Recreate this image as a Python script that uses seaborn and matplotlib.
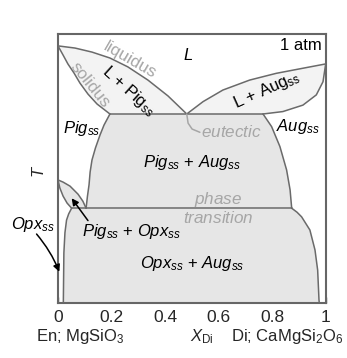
import numpy as np
import pandas as pd
import matplotlib
matplotlib.use("Agg")
import matplotlib.pyplot as plt
import seaborn as sns

# ---------------- data (X_Di, relative T) ----------------
liq_left_x = [0.0, 0.0635, 0.127, 0.194, 0.261, 0.336, 0.411, 0.481]
liq_left_t = [0.954, 0.946, 0.931, 0.909, 0.876, 0.827, 0.768, 0.701]

sol_left_x = [0.0, 0.019, 0.037, 0.060, 0.082, 0.112, 0.146, 0.194]
sol_left_t = [0.954, 0.920, 0.887, 0.853, 0.816, 0.775, 0.738, 0.701]

liq_right_x = [0.481, 0.542, 0.616, 0.716, 0.815, 0.915, 1.0]
liq_right_t = [0.701, 0.747, 0.790, 0.827, 0.852, 0.871, 0.887]

sol_right_x = [1.0, 0.990, 0.965, 0.915, 0.840, 0.766]
sol_right_t = [0.887, 0.821, 0.772, 0.734, 0.710, 0.701]

eut_x = [0.194, 0.766]
eut_t = [0.701, 0.701]

pig_solvus_x = [0.194, 0.172, 0.157, 0.140, 0.127, 0.120, 0.116, 0.110, 0.105]
pig_solvus_t = [0.701, 0.660, 0.623, 0.575, 0.530, 0.485, 0.438, 0.395, 0.351]

aug_up_x = [0.766, 0.798, 0.829, 0.854, 0.867, 0.873]
aug_up_t = [0.701, 0.654, 0.580, 0.493, 0.419, 0.351]

aug_lo_x = [0.873, 0.893, 0.910, 0.941, 0.960, 0.970, 0.975, 0.976]
aug_lo_t = [0.351, 0.336, 0.319, 0.270, 0.196, 0.121, 0.010, 0.0]

trans_x = [0.051, 0.873]
trans_t = [0.351, 0.351]

opx_x = [0.051, 0.040, 0.032, 0.026, 0.022, 0.020]
opx_t = [0.351, 0.330, 0.307, 0.260, 0.185, 0.0]

lens_pig_x = [0.0, 0.019, 0.045, 0.075, 0.093, 0.105]
lens_pig_t = [0.456, 0.448, 0.433, 0.403, 0.377, 0.351]
lens_opx_x = [0.0, 0.007, 0.019, 0.034, 0.051]
lens_opx_t = [0.456, 0.426, 0.396, 0.370, 0.351]

eut_leader_x = [0.481, 0.486, 0.501, 0.530]
eut_leader_t = [0.701, 0.667, 0.645, 0.633]

xticks = [0, 0.2, 0.4, 0.6, 0.8, 1]
xticklabels = ["0", "0.2", "0.4", "0.6", "0.8", "1"]

# ---------------- style ----------------
sns.set_theme(style="white")
plt.rcParams["font.family"] = ["Liberation Sans", "DejaVu Sans"]
plt.rcParams["mathtext.fontset"] = "custom"
plt.rcParams["mathtext.rm"] = "Liberation Sans"
plt.rcParams["mathtext.it"] = "Liberation Sans:italic"
plt.rcParams["mathtext.bf"] = "Liberation Sans:bold"

LINE = "#6a6a6a"
FILL_DARK = "#e6e6e6"
FILL_LIGHT = "#f3f3f3"
GRAY_TXT = "#a6a6a6"
FS = 12
FS_GRAY = 12.3

fig = plt.figure(figsize=(3.47, 3.58), dpi=100)
ax = fig.add_axes([0.1671, 0.1545, 0.7715, 0.7519])
ax.set_facecolor("white")

# ---------------- fills ----------------
ax.fill(liq_left_x + sol_left_x[::-1], liq_left_t + sol_left_t[::-1],
        color=FILL_LIGHT, lw=0, zorder=1)
ax.fill(liq_right_x + sol_right_x, liq_right_t + sol_right_t,
        color=FILL_LIGHT, lw=0, zorder=1)
ax.fill(eut_x + aug_up_x + pig_solvus_x[::-1],
        eut_t + aug_up_t + pig_solvus_t[::-1],
        color=FILL_DARK, lw=0, zorder=1)
ax.fill(trans_x + aug_lo_x + opx_x[::-1],
        trans_t + aug_lo_t + opx_t[::-1],
        color=FILL_DARK, lw=0, zorder=1)
ax.fill(lens_pig_x + lens_opx_x[::-1], lens_pig_t + lens_opx_t[::-1],
        color=FILL_DARK, lw=0, zorder=1)

# ---------------- boundary lines ----------------
curves = [
    (liq_left_x, liq_left_t), (sol_left_x, sol_left_t),
    (liq_right_x, liq_right_t), (sol_right_x, sol_right_t),
    (eut_x, eut_t), (pig_solvus_x, pig_solvus_t),
    (aug_up_x, aug_up_t), (aug_lo_x, aug_lo_t),
    (trans_x, trans_t), (opx_x, opx_t),
    (lens_pig_x, lens_pig_t), (lens_opx_x, lens_opx_t),
]
for cx, ct in curves:
    sns.lineplot(x=cx, y=ct, sort=False, estimator=None, color=LINE,
                 lw=1.1, ax=ax, zorder=3)
sns.lineplot(x=eut_leader_x, y=eut_leader_t, sort=False, estimator=None,
             color=GRAY_TXT, lw=1.1, ax=ax, zorder=3)

# ---------------- labels ----------------
txt = dict(ha="center", va="center", fontsize=FS, zorder=5)
gtxt = dict(ha="center", va="center", fontsize=FS_GRAY, zorder=5, color=GRAY_TXT)
ax.text(0.269, 0.902, "liquidus", rotation=-30, **gtxt)
ax.text(0.120, 0.808, "solidus", rotation=-51, **gtxt)
ax.text(0.263, 0.785, r"L + Pig$_\mathrm{ss}$", rotation=-42, color="black", **txt)
ax.text(0.487, 0.920, r"$L$", color="black", **txt)
ax.text(0.985, 0.957, "1 atm", color="black", ha="right", va="center",
        fontsize=FS, zorder=5)
ax.text(0.778, 0.790, r"L + Aug$_\mathrm{ss}$", rotation=24, color="black", **txt)
ax.text(0.898, 0.654, r"$Aug_{ss}$", color="black", **txt)
ax.text(0.649, 0.635, r"$eutectic$", **gtxt)
ax.text(0.089, 0.648, r"$Pig_{ss}$", color="black", **txt)
ax.text(0.502, 0.519, r"$Pig_{ss}$ + $Aug_{ss}$", color="black", **txt)
ax.text(0.599, 0.384, r"$phase$", **gtxt)
ax.text(0.599, 0.316, r"$transition$", **gtxt)
ax.text(0.275, 0.264, r"$Pig_{ss}$ + $Opx_{ss}$", color="black", **txt)
ax.text(0.502, 0.146, r"$Opx_{ss}$ + $Aug_{ss}$", color="black", **txt)
ax.text(-0.092, 0.289, r"$Opx_{ss}$", color="black", clip_on=False, **txt)

ax.annotate("", xy=(0.005, 0.115), xytext=(-0.080, 0.255),
            arrowprops=dict(arrowstyle="-|>", color="black", lw=1.1,
                            connectionstyle="arc3,rad=-0.08", shrinkA=0, shrinkB=0,
                            mutation_scale=10),
            annotation_clip=False, zorder=6)
ax.annotate("", xy=(0.051, 0.388), xytext=(0.112, 0.305),
            arrowprops=dict(arrowstyle="-|>", color="black", lw=1.1,
                            shrinkA=0, shrinkB=0, mutation_scale=10),
            zorder=6)

# ---------------- axes ----------------
ax.set_xlim(0, 1)
ax.set_ylim(0, 1)
ax.set_xticks(xticks)
ax.set_xticklabels(xticklabels, fontsize=12.5)
ax.set_yticks([])
ax.tick_params(axis="x", direction="in", length=4, width=1, color="#555555",
               pad=5, bottom=True)
for s in ax.spines.values():
    s.set_color("#666666")
    s.set_linewidth(1.5)
ax.set_xlabel("")
ax.set_ylabel("")
ax.text(-0.071, 0.486, r"$T$", rotation=90, transform=ax.transAxes,
        ha="center", va="center", fontsize=FS)
ax.text(0.082, -0.127, r"En; MgSiO$_3$", transform=ax.transAxes,
        ha="center", va="center", fontsize=FS)
ax.text(0.537, -0.127, r"$X_\mathrm{Di}$", transform=ax.transAxes,
        ha="center", va="center", fontsize=FS)
ax.text(0.857, -0.127, r"Di; CaMgSi$_2$O$_6$", transform=ax.transAxes,
        ha="center", va="center", fontsize=FS)

fig.savefig("out.png", dpi=100)
